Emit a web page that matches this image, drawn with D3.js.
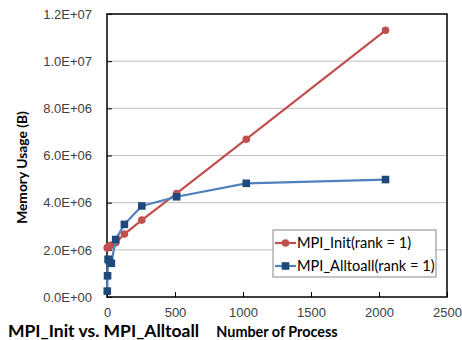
<!DOCTYPE html>
<html>
<head>
<meta charset="utf-8">
<script src="https://cdn.jsdelivr.net/npm/d3@7"></script>
<style>
  body { margin: 0; background: #fff; }
  svg { font-family: Lato, "Liberation Sans", sans-serif; }
</style>
</head>
<body>
<div id="chart"></div>
<script>
// chart data
const procs = [2, 4, 8, 16, 32, 64, 128, 256, 512, 1024, 2048];
const initMem = [2.08e6, 2.10e6, 2.12e6, 2.15e6, 2.2e6, 2.3e6, 2.67e6, 3.26e6, 4.39e6, 6.69e6, 11.31e6];
const alltoallMem = [0.25e6, 0.9e6, 1.6e6, 1.55e6, 1.43e6, 2.44e6, 3.08e6, 3.86e6, 4.25e6, 4.82e6, 4.98e6];
const xTicks = [0, 500, 1000, 1500, 2000, 2500];
const yTicks = [0, 2e6, 4e6, 6e6, 8e6, 1e7, 1.2e7];
const seriesNames = ['MPI_Init(rank = 1)', 'MPI_Alltoall(rank = 1)'];

const width = 462, height = 340;
const margin = { top: 14, right: 15, bottom: 43, left: 107 };
const w = width - margin.left - margin.right;
const h = height - margin.top - margin.bottom;

const svg = d3.select('#chart').append('svg')
  .attr('width', width)
  .attr('height', height);

const g = svg.append('g')
  .attr('transform', `translate(${margin.left},${margin.top})`);

const x = d3.scaleLinear().domain([0, 2500]).range([0, w]);
const y = d3.scaleLinear().domain([0, 1.2e7]).range([h, 0]);

// excel style 1.2E+07
const fmtY = d => {
  const [m, e] = d3.format('.1e')(d).split('e');
  return m + 'E' + e[0] + e.slice(1).padStart(2, '0');
};

// gridlines
g.append('g')
  .selectAll('line')
  .data(yTicks.filter(d => d > 0 && d < 1.2e7))
  .join('line')
  .attr('x1', 0).attr('x2', w)
  .attr('y1', d => y(d)).attr('y2', d => y(d))
  .attr('stroke', '#bfbfbf')
  .attr('stroke-width', 1);

// y axis
const yAxis = g.append('g')
  .call(d3.axisLeft(y).tickValues(yTicks).tickFormat(fmtY).tickSize(-5).tickPadding(15));
yAxis.select('.domain').remove();
yAxis.selectAll('.tick line').attr('stroke', '#000');
yAxis.selectAll('text').attr('font-size', 13).attr('fill', '#404040');

// x axis
const xAxis = g.append('g')
  .attr('transform', `translate(0,${h})`)
  .call(d3.axisBottom(x).tickValues(xTicks).tickFormat(d3.format('d')).tickSize(-5).tickPadding(11));
xAxis.select('.domain').remove();
xAxis.selectAll('.tick line').attr('stroke', '#000');
xAxis.selectAll('text').attr('font-size', 13).attr('fill', '#404040');

// plot frame
g.append('rect')
  .attr('width', w).attr('height', h)
  .attr('fill', 'none')
  .attr('stroke', '#000')
  .attr('stroke-width', 1.5);

const line = d3.line()
  .x(d => x(d[0]))
  .y(d => y(d[1]));

const initPts = procs.map((p, i) => [p, initMem[i]]);
const allPts = procs.map((p, i) => [p, alltoallMem[i]]);

// MPI_Init
g.append('path')
  .datum(initPts)
  .attr('d', line)
  .attr('fill', 'none')
  .attr('stroke', '#c0504d')
  .attr('stroke-width', 2.2);

g.append('g')
  .selectAll('circle')
  .data(initPts)
  .join('circle')
  .attr('cx', d => x(d[0]))
  .attr('cy', d => y(d[1]))
  .attr('r', 3.8)
  .attr('fill', '#c0504d');

// MPI_Alltoall
g.append('path')
  .datum(allPts)
  .attr('d', line)
  .attr('fill', 'none')
  .attr('stroke', '#4f81bd')
  .attr('stroke-width', 2.2);

g.append('g')
  .selectAll('rect')
  .data(allPts)
  .join('rect')
  .attr('x', d => x(d[0]) - 3.8)
  .attr('y', d => y(d[1]) - 3.8)
  .attr('width', 7.6)
  .attr('height', 7.6)
  .attr('fill', '#1f497d');

// legend
const leg = svg.append('g').attr('transform', 'translate(273,230)');
leg.append('rect')
  .attr('width', 163).attr('height', 47)
  .attr('fill', '#fff')
  .attr('stroke', '#888')
  .attr('stroke-width', 1);

seriesNames.forEach((name, i) => {
  const row = leg.append('g').attr('transform', `translate(0,${13 + i * 23})`);
  row.append('line')
    .attr('x1', 2).attr('x2', 23)
    .attr('stroke', i === 0 ? '#c0504d' : '#4f81bd')
    .attr('stroke-width', 2.2);
  if (i === 0) {
    row.append('circle').attr('cx', 12.5).attr('r', 3.8).attr('fill', '#c0504d');
  } else {
    row.append('rect').attr('x', 8.7).attr('y', -3.8).attr('width', 7.6).attr('height', 7.6).attr('fill', '#1f497d');
  }
  row.append('text')
    .attr('x', 24).attr('dy', '0.35em')
    .attr('font-size', 14.6)
    .attr('fill', '#000')
    .text(name);
});

// axis titles
svg.append('text')
  .attr('transform', `translate(27,${margin.top + h / 2 + 12}) rotate(-90)`)
  .attr('text-anchor', 'middle')
  .attr('font-size', 13.8)
  .attr('font-weight', 'bold')
  .text('Memory Usage (B)');

svg.append('text')
  .attr('x', 277).attr('y', 337)
  .attr('text-anchor', 'middle')
  .attr('font-size', 14.4)
  .attr('font-weight', 'bold')
  .text('Number of Process');

svg.append('text')
  .attr('x', 8).attr('y', 337)
  .attr('font-size', 17.5)
  .attr('font-weight', 'bold')
  .text('MPI_Init vs. MPI_Alltoall');
</script>
</body>
</html>
